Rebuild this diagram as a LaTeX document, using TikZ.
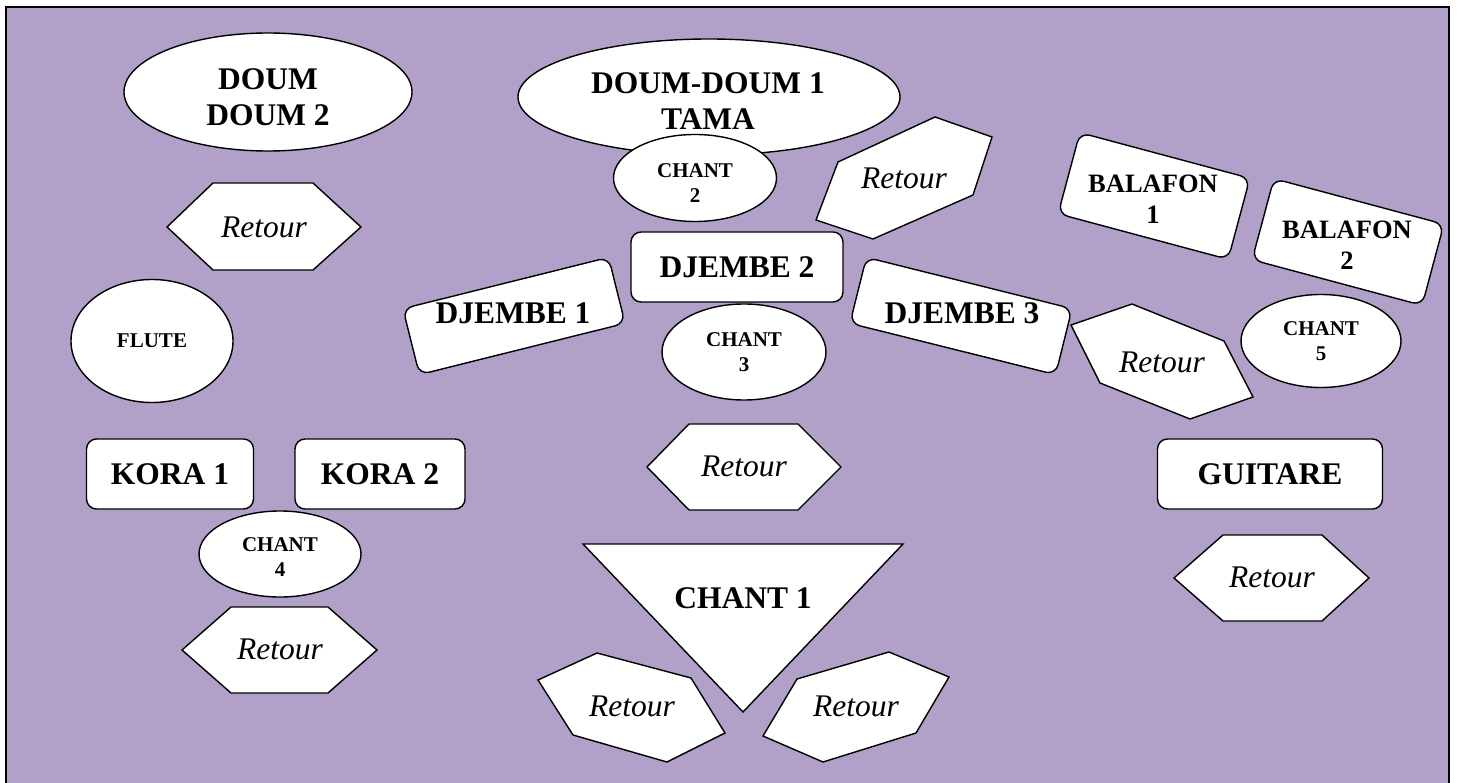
\documentclass[tikz,border=0pt]{standalone}
\usepackage{fontspec}
\setmainfont{Liberation Serif}
\usetikzlibrary{shapes.geometric}
\definecolor{bgpurple}{RGB}{177,160,199}
\begin{document}
\begin{tikzpicture}[x=1pt,y=-1pt,
 shp/.style={draw=black, fill=white, line width=1.4pt},
 rbox/.style={shp, rounded corners=10pt, inner sep=0pt},
 ell/.style={shp, ellipse, inner sep=0pt},
 txtbig/.style={font=\fontsize{31.5}{36.5}\selectfont\bfseries, align=center, inner sep=0pt},
 txtsmall/.style={font=\fontsize{21}{24.5}\selectfont\bfseries, align=center, inner sep=0pt},
 txtmid/.style={font=\fontsize{26.5}{31.5}\selectfont\bfseries, align=center, inner sep=0pt},
 txtret/.style={font=\fontsize{31.5}{36}\selectfont\itshape, inner sep=0pt}
]
\useasboundingbox (0,0) rectangle (1457,783);
\draw[line width=2.2pt, fill=bgpurple] (6,7) rectangle (1449,800);

% left column
\node[ell, minimum width=288pt, minimum height=118pt] (doum2box) at (268,92) {};
\node[txtbig] (doum2) at (268,97) {DOUM\\DOUM 2};
\draw[shp] (167,227) -- (213,183) -- (313,183) -- (361,227) -- (313,270) -- (213,270) -- cycle;
\node[txtret] (ret1) at (264,227) {Retour};
\node[ell, minimum width=162pt, minimum height=123pt] (flutebox) at (152,341) {};
\node[txtsmall] (flute) at (152,341) {FLUTE};
\node[rbox, minimum width=167pt, minimum height=70pt, txtbig] (kora1) at (170,474) {KORA 1};
\node[rbox, minimum width=170pt, minimum height=70pt, txtbig] (kora2) at (380,474) {KORA 2};
\node[ell, minimum width=162pt, minimum height=86pt] (chant4box) at (280,554) {};
\node[txtsmall] (chant4) at (280,557) {CHANT\\4};
\draw[shp] (182,650) -- (231,607) -- (328,607) -- (377,650) -- (328,693) -- (231,693) -- cycle;
\node[txtret] (ret2) at (280,649) {Retour};

% centre column
\node[ell, minimum width=382pt, minimum height=116pt] (doum1box) at (709,97) {};
\node[txtbig] (doum1) at (708,101) {DOUM-DOUM 1\\TAMA};
\node[ell, minimum width=163pt, minimum height=87pt] (chant2box) at (695,178) {};
\node[txtsmall] (chant2) at (695,183) {CHANT\\2};
\draw[shp] (935,117) -- (992,137) -- (973,195) -- (873,239) -- (816,220) -- (838,162) -- cycle;
\node[txtret] (ret3) at (904,178) {Retour};
\node[rbox, minimum width=212pt, minimum height=70pt, txtbig] (dj2) at (737,267) {DJEMBE 2};
\node[rbox, minimum width=212pt, minimum height=68pt, rotate=14] (dj1box) at (514,316) {};
\node[txtbig] (dj1) at (513,313) {DJEMBE 1};
\node[rbox, minimum width=212pt, minimum height=68pt, rotate=-14] (dj3box) at (961,316) {};
\node[txtbig] (dj3) at (962,313) {DJEMBE 3};
\node[ell, minimum width=164pt, minimum height=96pt] (chant3box) at (744,352) {};
\node[txtsmall] (chant3) at (744,352) {CHANT\\3};
\draw[shp] (647,467) -- (689,424) -- (798,424) -- (841,467) -- (798,510) -- (689,510) -- cycle;
\node[txtret] (ret4) at (744,466) {Retour};
\draw[shp] (583,544) -- (903,544) -- (743,712) -- cycle;
\node[txtbig] (chant1) at (743,598) {CHANT 1};
\draw[shp] (538,680) -- (597,653) -- (691,678) -- (725,733) -- (667,762) -- (573,735) -- cycle;
\node[txtret] (ret5) at (632,706) {Retour};
\draw[shp] (797,679) -- (889,652) -- (949,677) -- (916,733) -- (823,762) -- (763,736) -- cycle;
\node[txtret] (ret6) at (856,706) {Retour};

% right column
\node[rbox, minimum width=176pt, minimum height=84pt, rotate=-15] (bal1box) at (1154,196) {};
\node[txtmid] (bal1) at (1153,199) {BALAFON\\1};
\node[rbox, minimum width=176pt, minimum height=84pt, rotate=-15] (bal2box) at (1348,242) {};
\node[txtmid] (bal2) at (1347,245) {BALAFON\\2};
\draw[shp] (1071,325) -- (1132,304) -- (1224,341) -- (1253,397) -- (1190,419) -- (1100,383) -- cycle;
\node[txtret] (ret7) at (1162,362) {Retour};
\node[ell, minimum width=160pt, minimum height=93pt] (chant5box) at (1321,341) {};
\node[txtsmall] (chant5) at (1321,341) {CHANT\\5};
\node[rbox, minimum width=225pt, minimum height=70pt, txtbig] (guit) at (1270,474) {GUITARE};
\draw[shp] (1174,578) -- (1223,535) -- (1322,535) -- (1369,578) -- (1322,621) -- (1223,621) -- cycle;
\node[txtret] (ret8) at (1272,577) {Retour};
\end{tikzpicture}
\end{document}
